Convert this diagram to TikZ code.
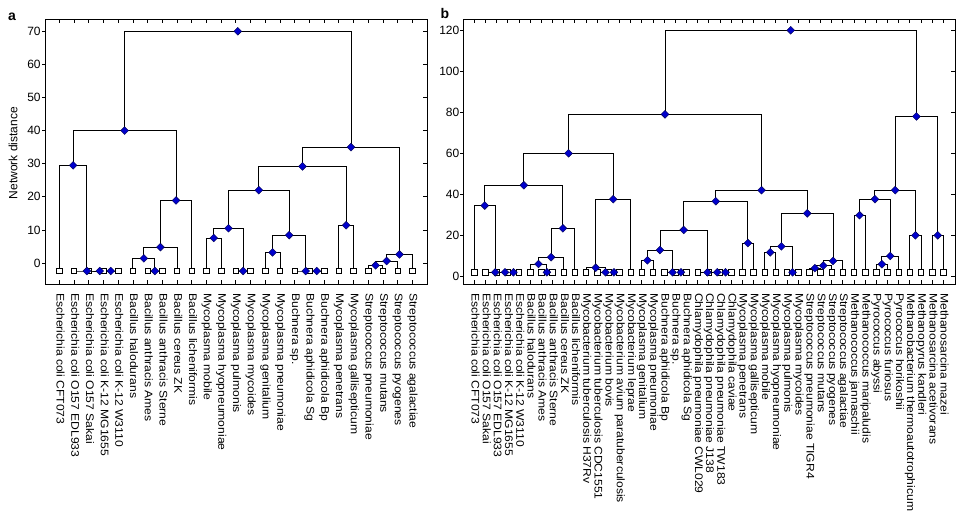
\documentclass[tikz,border=0pt]{standalone}
\usepackage{fontspec}
\setmainfont{Liberation Sans}
\newfontfamily\labfont[FakeStretch=1.1]{Liberation Sans}
\usetikzlibrary{shapes.geometric,backgrounds}
\tikzset{
  leafbox/.style={rectangle,draw=black,fill=white,line width=0.6pt,minimum size=5.5pt,inner sep=0pt},
  joinpt/.style={diamond,draw=blue!30!black,fill=blue!80!black,line width=0.4pt,minimum size=8pt,inner sep=0pt},
  branch/.style={line width=0.9pt,black},
  frame/.style={line width=0.9pt,black},
  tickmark/.style={line width=0.7pt,black},
  leaflabel/.style={rotate=-90,anchor=mid west,inner sep=0pt,font=\labfont\fontsize{11}{13}\selectfont},
  axnum/.style={anchor=east,inner sep=0pt,font=\fontsize{12}{14}\selectfont},
}
\newcommand\dgjoin[3]{\draw[branch] (#2.center) |- (#1.center) -| (#3.center);}
\begin{document}
\begin{tikzpicture}[x=1pt,y=-1pt]
\useasboundingbox (0,0) rectangle (966,523);

% ================= PANEL A =================
\draw[frame] (45.7,19) rectangle (427,284);
\foreach \i in {1,...,25} {
  \draw[tickmark] ({59.3+(\i-1)*14.71},19) -- ++(0,4);
  \draw[tickmark] ({59.3+(\i-1)*14.71},284) -- ++(0,-4);
}
\foreach \v in {0,10,...,70} {
  \draw[tickmark] (45.7,{263-3.31*\v}) -- ++(-4,0);
  \draw[tickmark] (427,{263-3.31*\v}) -- ++(-4,0);
  \node[axnum] (ya\v) at (40.8,{263-3.31*\v}) {\v};
}
\node[rotate=90,font=\fontsize{12}{14}\selectfont,inner sep=0pt] (ylab) at (13,153) {Network distance};
\node[font=\bfseries\fontsize{14}{16}\selectfont,inner sep=0pt] (pa) at (12,17) {a};

\foreach \i in {1,...,25} \node[leafbox] (a\i) at ({59.3+(\i-1)*14.71},271) {};
\node[joinpt] (n45) at (110.79,271) {};
\node[joinpt] (n345) at (99.75,271) {};
\node[joinpt] (n2345) at (86.88,271) {};
\node[joinpt] (nE) at (73.09,{263-3.31*29.5}) {};
\node[joinpt] (n78) at (154.92,271) {};
\node[joinpt] (n678) at (143.88,{263-3.31*1.4}) {};
\node[joinpt] (n6789) at (160.43,{263-3.31*4.8}) {};
\node[joinpt] (nB) at (176.06,{263-3.31*18.9}) {};
\node[joinpt] (nEB) at (124.58,{263-3.31*40}) {};
\node[joinpt] (n1112) at (213.76,{263-3.31*7.55}) {};
\node[joinpt] (n1314) at (243.18,271) {};
\node[joinpt] (n1114) at (228.47,{263-3.31*10.5}) {};
\node[joinpt] (n1516) at (272.6,{263-3.31*3.2}) {};
\node[joinpt] (n1819) at (316.73,271) {};
\node[joinpt] (n1719) at (305.69,271) {};
\node[joinpt] (n1519) at (289.15,{263-3.31*8.4}) {};
\node[joinpt] (n1119) at (258.81,{263-3.31*22}) {};
\node[joinpt] (n2021) at (346.15,{263-3.31*11.4}) {};
\node[joinpt] (n1121) at (302.48,{263-3.31*29.2}) {};
\node[joinpt] (n2223) at (375.57,{263-3.31*(-0.7)}) {};
\node[joinpt] (n2224) at (386.6,{263-3.31*0.6}) {};
\node[joinpt] (n2225) at (399.47,{263-3.31*2.6}) {};
\node[joinpt] (n1125) at (350.97,{263-3.31*35}) {};
\node[joinpt] (aroot) at (237.78,{263-3.31*70}) {};

\begin{scope}[on background layer]
\dgjoin{n45}{a4}{a5}
\dgjoin{n345}{a3}{n45}
\dgjoin{n2345}{a2}{n345}
\dgjoin{nE}{a1}{n2345}
\dgjoin{n78}{a7}{a8}
\dgjoin{n678}{a6}{n78}
\dgjoin{n6789}{n678}{a9}
\dgjoin{nB}{n6789}{a10}
\dgjoin{nEB}{nE}{nB}
\dgjoin{n1112}{a11}{a12}
\dgjoin{n1314}{a13}{a14}
\dgjoin{n1114}{n1112}{n1314}
\dgjoin{n1516}{a15}{a16}
\dgjoin{n1819}{a18}{a19}
\dgjoin{n1719}{a17}{n1819}
\dgjoin{n1519}{n1516}{n1719}
\dgjoin{n1119}{n1114}{n1519}
\dgjoin{n2021}{a20}{a21}
\dgjoin{n1121}{n1119}{n2021}
\dgjoin{n2223}{a22}{a23}
\dgjoin{n2224}{n2223}{a24}
\dgjoin{n2225}{n2224}{a25}
\dgjoin{n1125}{n1121}{n2225}
\dgjoin{aroot}{nEB}{n1125}
\end{scope}

\foreach \t [count=\i] in {Escherichia coli CFT073, Escherichia coli O157 EDL933, Escherichia coli O157 Sakai, Escherichia coli K-12 MG1655, Escherichia coli K-12 W3110, Bacillus halodurans, Bacillus anthracis Ames, Bacillus anthracis Sterne, Bacillus cereus ZK, Bacillus licheniformis, Mycoplasma mobile, Mycoplasma hyopneumoniae, Mycoplasma pulmonis, Mycoplasma mycoides, Mycoplasma genitalium, Mycoplasma pneumoniae, Buchnera sp., Buchnera aphidicola Sg, Buchnera aphidicola Bp, Mycoplasma penetrans, Mycoplasma gallisepticum, Streptococcus pneumoniae, Streptococcus mutans, Streptococcus pyogenes, Streptococcus agalactiae}
  \node[leaflabel] (la\i) at ({59.3+(\i-1)*14.71},293) {\t};

% ================= PANEL B =================
\draw[frame] (463,19) rectangle (955.7,284);
\foreach \i in {1,...,43} {
  \draw[tickmark] ({474.3+(\i-1)*11.167},19) -- ++(0,4);
  \draw[tickmark] ({474.3+(\i-1)*11.167},284) -- ++(0,-4);
}
\foreach \v in {0,20,...,120} {
  \draw[tickmark] (463,{276.3-2.05*\v}) -- ++(-3,0);
  \draw[tickmark] (955.7,{276.3-2.05*\v}) -- ++(-5,0);
  \node[axnum] (yb\v) at (459.5,{276.3-2.05*\v}) {\v};
}
\node[font=\bfseries\fontsize{14}{16}\selectfont,inner sep=0pt] (pb) at (445,13) {b};

\foreach \i in {1,...,43} \node[leafbox] (b\i) at ({474.3+(\i-1)*11.167},272.3) {};
\node[joinpt] (b45) at (513.39,272.3) {};
\node[joinpt] (b345) at (505.01,272.3) {};
\node[joinpt] (b2345) at (495.24,272.3) {};
\node[joinpt] (bE) at (484.77,{276.3-2.05*34.5}) {};
\node[joinpt] (b78) at (546.89,272.3) {};
\node[joinpt] (b678) at (538.51,{276.3-2.05*6}) {};
\node[joinpt] (b6789) at (551.08,{276.3-2.05*9.3}) {};
\node[joinpt] (bB) at (562.94,{276.3-2.05*23.4}) {};
\node[joinpt] (bEB) at (523.85,{276.3-2.05*44.4}) {};
\node[joinpt] (b1314) at (613.89,272.3) {};
\node[joinpt] (b1214) at (605.51,272.3) {};
\node[joinpt] (b1114) at (595.74,{276.3-2.05*4.2}) {};
\node[joinpt] (b1115) at (613.19,{276.3-2.05*37.6}) {};
\node[joinpt] (b115) at (568.52,{276.3-2.05*60}) {};
\node[joinpt] (b1617) at (647.39,{276.3-2.05*7.8}) {};
\node[joinpt] (b1920) at (680.89,272.3) {};
\node[joinpt] (b1820) at (672.51,272.3) {};
\node[joinpt] (b1620) at (659.95,{276.3-2.05*12.8}) {};
\node[joinpt] (b2324) at (725.56,272.3) {};
\node[joinpt] (b2224) at (717.18,272.3) {};
\node[joinpt] (b2124) at (707.41,272.3) {};
\node[joinpt] (b1624) at (683.68,{276.3-2.05*22.6}) {};
\node[joinpt] (b2526) at (747.89,{276.3-2.05*16.2}) {};
\node[joinpt] (b1626) at (715.79,{276.3-2.05*36.6}) {};
\node[joinpt] (b2728) at (770.22,{276.3-2.05*11.7}) {};
\node[joinpt] (b2930) at (792.56,272.3) {};
\node[joinpt] (b2730) at (781.39,{276.3-2.05*14.6}) {};
\node[joinpt] (b3132) at (814.89,{276.3-2.05*4.0}) {};
\node[joinpt] (b3133) at (823.27,{276.3-2.05*5.2}) {};
\node[joinpt] (b3134) at (833.04,{276.3-2.05*7.5}) {};
\node[joinpt] (b2734) at (807.21,{276.3-2.05*30.7}) {};
\node[joinpt] (b1634) at (761.5,{276.3-2.05*42}) {};
\node[joinpt] (b134) at (665.01,{276.3-2.05*79}) {};
\node[joinpt] (b3536) at (859.56,{276.3-2.05*29.8}) {};
\node[joinpt] (b3738) at (881.9,{276.3-2.05*5.9}) {};
\node[joinpt] (b3739) at (890.27,{276.3-2.05*9.9}) {};
\node[joinpt] (b3539) at (874.92,{276.3-2.05*37.6}) {};
\node[joinpt] (b4041) at (915.4,{276.3-2.05*20}) {};
\node[joinpt] (b3541) at (895.16,{276.3-2.05*42}) {};
\node[joinpt] (b4243) at (937.73,{276.3-2.05*20}) {};
\node[joinpt] (b3543) at (916.44,{276.3-2.05*78}) {};
\node[joinpt] (broot) at (790.73,{276.3-2.05*120}) {};

\begin{scope}[on background layer]
\dgjoin{b45}{b4}{b5}
\dgjoin{b345}{b3}{b45}
\dgjoin{b2345}{b2}{b345}
\dgjoin{bE}{b1}{b2345}
\dgjoin{b78}{b7}{b8}
\dgjoin{b678}{b6}{b78}
\dgjoin{b6789}{b678}{b9}
\dgjoin{bB}{b6789}{b10}
\dgjoin{bEB}{bE}{bB}
\dgjoin{b1314}{b13}{b14}
\dgjoin{b1214}{b12}{b1314}
\dgjoin{b1114}{b11}{b1214}
\dgjoin{b1115}{b1114}{b15}
\dgjoin{b115}{bEB}{b1115}
\dgjoin{b1617}{b16}{b17}
\dgjoin{b1920}{b19}{b20}
\dgjoin{b1820}{b18}{b1920}
\dgjoin{b1620}{b1617}{b1820}
\dgjoin{b2324}{b23}{b24}
\dgjoin{b2224}{b22}{b2324}
\dgjoin{b2124}{b21}{b2224}
\dgjoin{b1624}{b1620}{b2124}
\dgjoin{b2526}{b25}{b26}
\dgjoin{b1626}{b1624}{b2526}
\dgjoin{b2728}{b27}{b28}
\dgjoin{b2930}{b29}{b30}
\dgjoin{b2730}{b2728}{b2930}
\dgjoin{b3132}{b31}{b32}
\dgjoin{b3133}{b3132}{b33}
\dgjoin{b3134}{b3133}{b34}
\dgjoin{b2734}{b2730}{b3134}
\dgjoin{b1634}{b1626}{b2734}
\dgjoin{b134}{b115}{b1634}
\dgjoin{b3536}{b35}{b36}
\dgjoin{b3738}{b37}{b38}
\dgjoin{b3739}{b3738}{b39}
\dgjoin{b3539}{b3536}{b3739}
\dgjoin{b4041}{b40}{b41}
\dgjoin{b3541}{b3539}{b4041}
\dgjoin{b4243}{b42}{b43}
\dgjoin{b3543}{b3541}{b4243}
\dgjoin{broot}{b134}{b3543}
\end{scope}

\foreach \t [count=\i] in {Escherichia coli CFT073, Escherichia coli O157 Sakai, Escherichia coli O157 EDL933, Escherichia coli K-12 MG1655, Escherichia coli K-12 W3110, Bacillus halodurans, Bacillus anthracis Ames, Bacillus anthracis Sterne, Bacillus cereus ZK, Bacillus licheniformis, Mycobacterium tuberculosis H37Rv, Mycobacterium tuberculosis CDC1551, Mycobacterium bovis, Mycobacterium avium paratuberculosis, Mycobacterium leprae, Mycoplasma genitalium, Mycoplasma pneumoniae, Buchnera aphidicola Bp, Buchnera sp., Buchnera aphidicola Sg, Chlamydophila pneumoniae CWL029, Chlamydophila pneumoniae J138, Chlamydophila pneumoniae TW183, Chlamydophila caviae, Mycoplasma penetrans, Mycoplasma gallisepticum, Mycoplasma mobile, Mycoplasma hyopneumoniae, Mycoplasma pulmonis, Mycoplasma mycoides, Streptococcus pneumoniae TIGR4, Streptococcus mutans, Streptococcus pyogenes, Streptococcus agalactiae, Methanococcus jannaschii, Methanococcus maripaludis, Pyrococcus abyssi, Pyrococcus furiosus, Pyrococcus horikoshii, Methanobacterium thermoautotrophicum, Methanopyrus kandleri, Methanosarcina acetivorans, Methanosarcina mazei}
  \node[leaflabel] (lb\i) at ({474.3+(\i-1)*11.167},293) {\t};
\end{tikzpicture}
\end{document}
